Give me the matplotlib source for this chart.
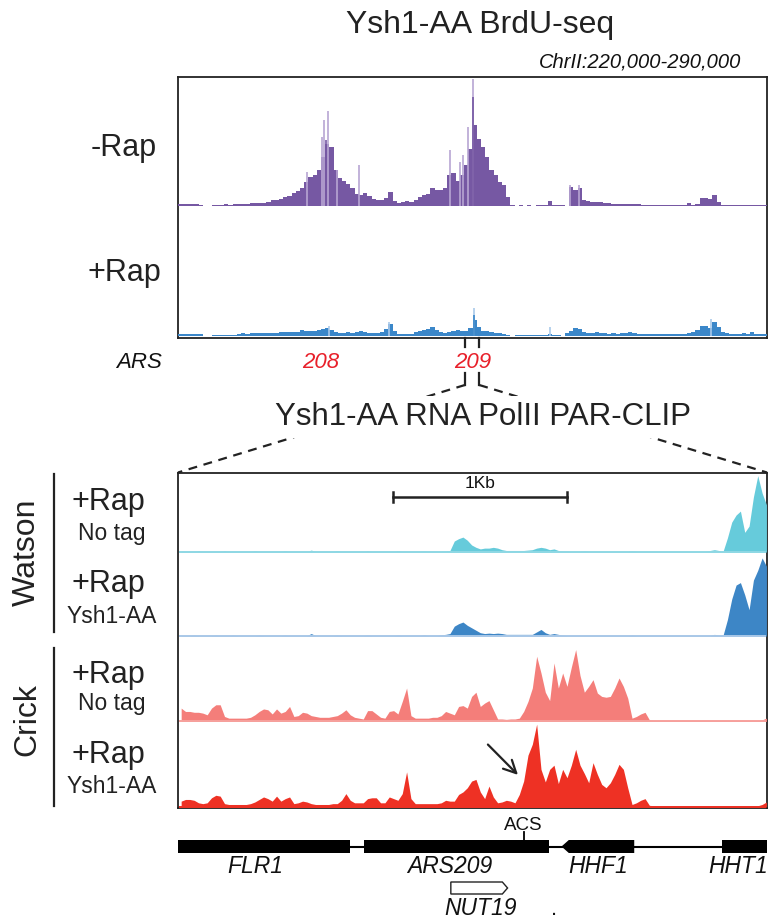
import numpy as np
import matplotlib
matplotlib.use('Agg')
import matplotlib.pyplot as plt
from matplotlib.patches import Polygon
from matplotlib.lines import Line2D

plt.rcParams['font.family'] = ['Liberation Sans', 'DejaVu Sans']

W, H = 784, 923

# -------------------------- data ----------------------------- #
# BrdU-seq, ChrII 220-290 kb, 0.5 kb bins
brdu_start, brdu_end, brdu_bin = 220.0, 290.0, 0.5
minus_rap = [1.7, 1.7, 1.3, 1.3, 1.3, 1.0, 0, 0, 1.0, 1.0,
             1.0, 1.3, 1.0, 1.3, 2.0, 2.0, 2.0, 2.3, 2.3, 2.7,
             3.0, 4.0, 5.7, 5.3, 6.7, 8.7, 10, 12.3, 14.7, 17.3,
             24, 29, 30.7, 35.7, 49, 62, 59, 35.7, 27.3, 24.7,
             21.3, 17.3, 11.3, 10.7, 12.3, 10, 6.7, 5.3, 5.3, 8,
             14, 4.7, 2.3, 3.3, 4.7, 4, 5.7, 9, 10.7, 11.3,
             17.3, 15.7, 15.7, 17.3, 30.7, 32.3, 24.7, 30.7, 40.7, 57.3,
             80.7, 67, 59, 49, 35.7, 30.7, 24, 20.7, 9, 1,
             0, 1, 0, 1, 0, 1, 1, 1, 4.7, 1,
             1, 1, 0, 19, 15.7, 17.3, 5.7, 4.7, 4, 3.3,
             3.3, 2.7, 2.3, 2, 1.7, 1.7, 1.3, 1.7, 2, 1.3,
             1, 1, 1, 0.7, 0.7, 0.7, 0.7, 0.7, 0.7, 0.7,
             0.7, 3, 1, 1.3, 7.3, 8, 6.7, 10.7, 4, 1,
             1, 0.7, 1, 0.7, 0.7, 1, 0.7, 0.7, 1, 0.7]
plus_rap = [1.7, 1.7, 2.0, 1.7, 1.7, 1.5, 0, 0, 0.6, 0.6,
            0.6, 0.9, 0.6, 0.8, 2.0, 2.3, 2.0, 2.3, 2.6, 2.3,
            2.9, 2.6, 3.0, 2.6, 3.2, 3.8, 3.2, 3.5, 3.8, 5.2,
            4.6, 4.0, 4.4, 5.0, 6.4, 6.6, 5.5, 3.2, 2.9, 2.9,
            3.2, 2.9, 3.5, 4.0, 3.2, 2.9, 2.6, 2.9, 3.8, 6.4,
            10.5, 4.4, 1.7, 1.5, 1.7, 2.0, 3.2, 4.6, 5.2, 6.1,
            7.5, 5.2, 3.2, 2.6, 3.2, 4.6, 5.5, 4.0, 4.0, 6.5,
            14, 8.0, 4.0, 4.6, 3.5, 2.6, 2.3, 2.0, 1.0, 0.4,
            0.5, 0.5, 0.5, 0.5, 0.5, 0.5, 0.5, 0.5, 1.5, 0.5,
            0.5, 0, 2.3, 4.6, 6.6, 6.0, 3.2, 2.6, 2.3, 3.5,
            2.3, 2.3, 2.0, 2.3, 2.0, 2.3, 2.6, 3.8, 2.3, 2.0,
            1.7, 2.0, 1.7, 2.0, 2.0, 1.7, 2.0, 1.7, 2.0, 2.0,
            1.7, 2.6, 3.5, 5.5, 8.7, 9.0, 7.0, 12.0, 7.5, 3.2,
            2.3, 2.0, 2.0, 2.0, 2.3, 2.0, 3.5, 2.0, 2.0, 1.7]
# single-bp maxima drawn lighter on top of the binned signal
minus_rap_max_kb = [235.3, 237.08, 237.35, 237.87, 238.86, 241.55, 252.33, 253.52, 253.91, 254.5, 255.1, 266.6, 267.7]
minus_rap_max = [34, 69, 85.7, 94.7, 35.7, 40.7, 55.7, 44, 50.7, 79, 127, 20.7, 21]
minus_rap_peak_kb = [255.1, 237.6]
minus_rap_peak = [109, 66]
plus_rap_max_kb = [237.9, 245.1, 255.13, 264.2, 283.4]
plus_rap_max = [9, 12, 24, 7.5, 14.5]

ars_names = ['208', '209']
ars_kb = [236.9, 255.06]
zoom_kb = [254.1, 255.8]

# PAR-CLIP, 3.385 kb window, 25 bp bins (percent of track height)
clip_bin = 0.025
clip_len = 3.385
watson_notag = [0.8, 0.8, 0.8, 0.8, 2, 0.8, 0.8, 0.8, 0.8, 0.8,
                2, 0.8, 0.8, 0.8, 0.8, 0.8, 0.8, 2, 0.8, 0.8,
                0.8, 0.8, 0.8, 0.8, 2, 0.8, 0.8, 0.8, 0.8, 0.8,
                2.5, 0.8, 0.8, 0.8, 0.8, 0.8, 2, 0.8, 0.8, 0.8,
                0.8, 0.8, 0.8, 2, 0.8, 0.8, 0.8, 0.8, 0.8, 0.8,
                2, 0.8, 0.8, 0.8, 0.8, 0.8, 1.5, 0.8, 0.8, 0.8,
                1, 1.5, 2, 14, 17, 19, 15, 9, 6, 4,
                5, 5, 6, 5, 3, 2, 2, 2, 2, 2,
                2.5, 3, 5, 6, 5, 3, 4, 2, 1, 0.8,
                0.6, 0.6, 0.6, 1.5, 0.6, 0.6, 0.6, 0.6, 0.6, 0.6,
                0.6, 0.6, 0.6, 0.6, 1.5, 0.6, 0.6, 0.6, 0.6, 0.6,
                0.6, 0.6, 0.6, 0.6, 0.6, 0.6, 0.6, 0.6, 0.6, 0.6,
                0.6, 0.6, 2, 3, 2, 1, 18, 38, 47, 52,
                25, 33, 70, 97, 75, 60]
watson_ysh1 = [0.5, 0.5, 0.5, 1, 0.5, 0.5, 0.5, 0.5, 1, 0.5,
               0.5, 0.5, 1, 0.5, 0.5, 0.5, 0.5, 0.5, 1, 0.5,
               0.5, 0.5, 0.5, 0.5, 1, 0.5, 0.5, 0.5, 0.5, 0.5,
               3, 0.5, 0.5, 0.5, 0.5, 0.5, 1, 0.5, 0.5, 0.5,
               0.5, 0.5, 0.5, 1, 0.5, 0.5, 0.5, 0.5, 0.5, 0.5,
               1, 0.5, 0.5, 0.5, 0.5, 0.5, 1.5, 0.5, 0.5, 0.5,
               1.5, 2, 3, 12, 15, 17, 13, 10, 7, 4,
               3, 3.5, 3, 3.5, 3, 2, 2, 2, 2, 2,
               2, 2, 5, 8, 4, 2, 3, 2, 1, 0.5,
               0.5, 0.5, 0.5, 0.5, 0.5, 0.5, 0.5, 0.5, 0.5, 0.5,
               0.5, 0.5, 0.5, 0.5, 1, 0.5, 0.5, 0.5, 0.5, 0.5,
               0.5, 0.5, 0.5, 0.5, 0.5, 0.5, 0.5, 0.5, 0.5, 0.5,
               0.5, 0.5, 0.5, 2, 1, 1, 20, 45, 62, 65,
               50, 32, 68, 80, 95, 85]
crick_notag = [16, 12, 12, 11, 11, 10, 8, 16, 20, 20,
               6, 4, 4, 4, 4, 4, 5, 8, 12, 15,
               14, 9, 15, 10, 12, 18, 6, 7, 11, 10,
               7, 6, 5, 5, 5, 6, 7, 10, 14, 8,
               5, 4, 3, 13, 13, 9, 5, 4, 12, 13,
               9, 24, 40, 7, 4, 4, 4, 4, 5, 5,
               7, 12, 10, 8, 18, 19, 16, 30, 35, 18,
               22, 25, 14, 3, 3, 2.5, 3, 3, 4, 12,
               24, 40, 78, 58, 35, 25, 70, 40, 58, 42,
               65, 86, 55, 35, 42, 50, 34, 30, 29, 30,
               40, 52, 42, 28, 4, 6, 9, 11, 2, 1,
               1, 1, 1, 1, 1, 1, 1, 1, 1, 1,
               1, 1, 1, 1, 1, 1, 1, 1, 1, 1,
               1, 1, 1, 1, 2, 4]
crick_ysh1 = [7, 9, 9, 8, 5, 4, 5, 11, 14, 13,
              4, 3, 3, 3, 3, 3, 4, 6, 9, 12,
              10, 7, 13, 7, 10, 12, 4, 5, 7, 6,
              4, 3, 3, 3, 3, 4, 4, 8, 16, 8,
              5, 5, 5, 10, 11, 11, 5, 5, 12, 10,
              8, 16, 42, 10, 4, 4, 4, 4, 4, 4,
              5, 8, 7, 7, 15, 18, 23, 31, 33, 18,
              10, 25, 12, 5, 6, 8, 7, 5, 15, 31,
              62, 75, 99, 45, 30, 45, 50, 28, 45, 35,
              50, 69, 50, 40, 29, 53, 39, 27, 23, 29,
              39, 51, 45, 23, 3, 5, 8, 10, 2, 1.5,
              1.5, 1.5, 1.5, 1.5, 1.5, 1.5, 1.5, 1.5, 1.5, 1.5,
              1.5, 1.5, 1.5, 1.5, 1.5, 1.5, 1.5, 1.5, 1.5, 1.5,
              1.5, 1.5, 1.5, 1.5, 3, 6]

track_top = ['+Rap', '+Rap', '+Rap', '+Rap']
track_sub = ['No tag', 'Ysh1-AA', 'No tag', 'Ysh1-AA']
track_colors = ['#66cbdb', '#3d86c6', '#f47e7a', '#ee3124']
track_base_colors = ['#8fd8e4', '#a9c8e8', '#f7a19d', '#ee3124']

scalebar_kb = [1.235, 2.235]
arrow_kb = [1.77, 1.966]
arrow_val = [77, 36]

# gene annotation (kb in PAR-CLIP window)
genes = ['FLR1', 'ARS209', 'HHF1', 'HHT1']
gene_start = [0.0, 1.069, 2.204, 3.128]
gene_end = [0.986, 2.13, 2.622, 3.385]
gene_strand = ['.', '.', '-', '.']
gene_label_kb = [0.447, 1.559, 2.413, 3.221]
acs_kb = 1.986
nut_start, nut_end, nut_label_kb = 1.568, 1.894, 1.736


# -------------------------- helpers ----------------------------- #
def add_axes_px(fig, x0, y0, x1, y1):
    """axes placed in pixel coordinates of the figure (y down)"""
    return fig.add_axes([x0 / W, 1 - y1 / H, (x1 - x0) / W, (y1 - y0) / H])


def px_line(fig, xs, ys, **kw):
    fig.add_artist(Line2D([x / W for x in xs], [1 - y / H for y in ys],
                          transform=fig.transFigure, **kw))


def px_text(fig, x, y, s, **kw):
    return fig.text(x / W, 1 - y / H, s, **kw)


def bare(ax):
    ax.set_xticks([])
    ax.set_yticks([])
    for s in ax.spines.values():
        s.set_visible(False)
    ax.patch.set_alpha(0)


fig = plt.figure(figsize=(W / 100, H / 100), dpi=100)

# -------------------------- BrdU-seq panel ----------------------------- #
BX0, BX1, BY0, BY1 = 178, 767, 77, 338
box = add_axes_px(fig, BX0, BY0, BX1, BY1)
box.set_xticks([])
box.set_yticks([])
for s in box.spines.values():
    s.set_linewidth(1.3)
    s.set_color('#222222')

edges = brdu_start + np.arange(len(minus_rap) + 1) * brdu_bin

ax_m = add_axes_px(fig, BX0, BY0, BX1, 205.7)
bare(ax_m)
ax_m.vlines(minus_rap_max_kb, 0, minus_rap_max, color='#b7a6d3', lw=1.2)
ax_m.stairs(minus_rap, edges, fill=True, color='#7658a3', lw=0)
ax_m.vlines(minus_rap_peak_kb, 0, minus_rap_peak, color='#7658a3', lw=1.2)
ax_m.set_xlim(brdu_start, brdu_end)
ax_m.set_ylim(0, 129)

ax_p = add_axes_px(fig, BX0, 206, BX1, 336)
bare(ax_p)
ax_p.vlines(plus_rap_max_kb, 0, plus_rap_max, color='#a9c9ea', lw=1.2)
ax_p.stairs(plus_rap, edges, fill=True, color='#3b87c9', lw=0)
ax_p.vlines(plus_rap_max_kb[2:3], 0, [v * 0.75 for v in plus_rap_max[2:3]], color='#3b87c9', lw=1.2)
ax_p.set_xlim(brdu_start, brdu_end)
ax_p.set_ylim(0, 112)

px_text(fig, 480, 33, 'Ysh1-AA BrdU-seq', ha='center', va='baseline', fontsize=23, color='#222222')
px_text(fig, 741, 68, 'ChrII:220,000-290,000', ha='right', va='baseline', fontsize=14.5,
        style='italic', color='#111111')
px_text(fig, 124, 148, '-Rap', ha='center', va='center', fontsize=22, color='#222222')
px_text(fig, 124, 273, '+Rap', ha='center', va='center', fontsize=22, color='#222222')


def kb_to_px(kb):
    return BX0 + (kb - brdu_start) / (brdu_end - brdu_start) * (BX1 - BX0)


px_text(fig, 139, 368, 'ARS', ha='center', va='baseline', fontsize=16, style='italic', color='#111111')
for name, kb in zip(ars_names, ars_kb):
    px_text(fig, kb_to_px(kb), 368, name, ha='center', va='baseline', fontsize=16,
            style='italic', color='#e8202a')

# zoom connector
CX0, CX1, CY0, CY1 = 178, 767, 472.5, 808
zl, zr = kb_to_px(zoom_kb[0]), kb_to_px(zoom_kb[1])
for zx in (zl, zr):
    px_line(fig, [zx, zx], [BY1, 347], color='#222222', lw=1.6)
    px_line(fig, [zx, zx], [373, 385], color='#222222', lw=1.6)
px_line(fig, [zl, CX0], [385, CY0], color='#222222', lw=1.6, ls=(0, (4, 3)))
px_line(fig, [zr, CX1], [385, CY0], color='#222222', lw=1.6, ls=(0, (4, 3)))
px_text(fig, 483, 425, 'Ysh1-AA RNA PolII PAR-CLIP', ha='center', va='baseline', fontsize=22.5,
        color='#222222', bbox=dict(facecolor='white', edgecolor='none', pad=4), zorder=5)

# -------------------------- PAR-CLIP panel ----------------------------- #
cbox = add_axes_px(fig, CX0, CY0, CX1, CY1)
cbox.set_xticks([])
cbox.set_yticks([])
for s in cbox.spines.values():
    s.set_linewidth(1.3)
    s.set_color('#222222')

bounds = [CY0, 553, 637, 722.5, CY1]
centers = (np.arange(len(crick_ysh1)) + 0.5) * clip_bin
tracks = [watson_notag, watson_ysh1, crick_notag, crick_ysh1]
track_axes = []
for k, vals in enumerate(tracks):
    ax = add_axes_px(fig, CX0 + 1, bounds[k], CX1 - 1, bounds[k + 1])
    bare(ax)
    ax.fill_between(centers, 0, vals, color=track_colors[k], lw=0)
    ax.axhline(0, color=track_base_colors[k], lw=1.4)
    ax.set_xlim(0, clip_len)
    ax.set_ylim(-1.2, 101)
    track_axes.append(ax)

# scale bar
ax0 = track_axes[0]
ax0.plot(scalebar_kb, [70, 70], color='#222222', lw=1.8)
for sx in scalebar_kb:
    ax0.plot([sx, sx], [64, 76], color='#222222', lw=1.8)
ax0.text(np.mean(scalebar_kb), 78, '1Kb', ha='center', va='bottom', fontsize=12.5, color='#111111')

# arrow
track_axes[3].annotate('', xy=(arrow_kb[1], arrow_val[1]), xytext=(arrow_kb[0], arrow_val[0]),
                       arrowprops=dict(arrowstyle='->,head_length=0.9,head_width=0.45',
                                       color='#222222', lw=1.6))

# left labels
label_y = [(510, 540), (592, 623), (683, 710), (763, 793)]
for k in range(4):
    px_text(fig, 108, label_y[k][0], track_top[k], ha='center', va='baseline', fontsize=22, color='#222222')
    px_text(fig, 112, label_y[k][1], track_sub[k], ha='center', va='baseline', fontsize=16.5, color='#222222')
px_line(fig, [54, 54], [474, 632], color='#222222', lw=1.6)
px_line(fig, [54, 54], [648, 806], color='#222222', lw=1.6)
px_text(fig, 27, 552, 'Watson', ha='center', va='center', rotation=90, fontsize=23, color='#222222')
px_text(fig, 27, 720, 'Crick', ha='center', va='center', rotation=90, fontsize=23, color='#222222')

# -------------------------- gene track ----------------------------- #
ga = add_axes_px(fig, CX0, 810, CX1, H)
bare(ga)
ga.set_xlim(0, clip_len)
ga.set_ylim(H, 810)
gy, gh = 846.5, 6.5
ga.plot([0, clip_len], [gy, gy], color='black', lw=1.5, solid_capstyle='butt')
head = 0.042
for name, s0, s1, strand, lx in zip(genes, gene_start, gene_end, gene_strand, gene_label_kb):
    if strand == '-':
        pts = [(s0, gy), (s0 + head, gy - gh), (s1, gy - gh), (s1, gy + gh), (s0 + head, gy + gh)]
    else:
        pts = [(s0, gy - gh), (s1, gy - gh), (s1, gy + gh), (s0, gy + gh)]
    ga.add_patch(Polygon(pts, closed=True, facecolor='black', edgecolor='black', lw=0))
    ga.text(lx, 873, name, ha='center', va='baseline', fontsize=16.5, style='italic', color='#111111')
ga.plot([acs_kb, acs_kb], [832, gy], color='black', lw=1.3)
ga.text(acs_kb, 830, 'ACS', ha='center', va='baseline', fontsize=13.5, color='#111111')

nh, ny0, ny1 = 0.03, 882, 894
ga.add_patch(Polygon([(nut_start, ny0), (nut_end - nh, ny0), (nut_end, (ny0 + ny1) / 2),
                      (nut_end - nh, ny1), (nut_start, ny1)], closed=True,
                     facecolor='white', edgecolor='#222222', lw=1.0))
ga.text(nut_label_kb, 915, 'NUT19', ha='center', va='baseline', fontsize=16.5, style='italic', color='#111111')
ga.text(2.16, 915, '.', ha='center', va='baseline', fontsize=16, color='#111111')

fig.savefig('out.png', dpi=100)
